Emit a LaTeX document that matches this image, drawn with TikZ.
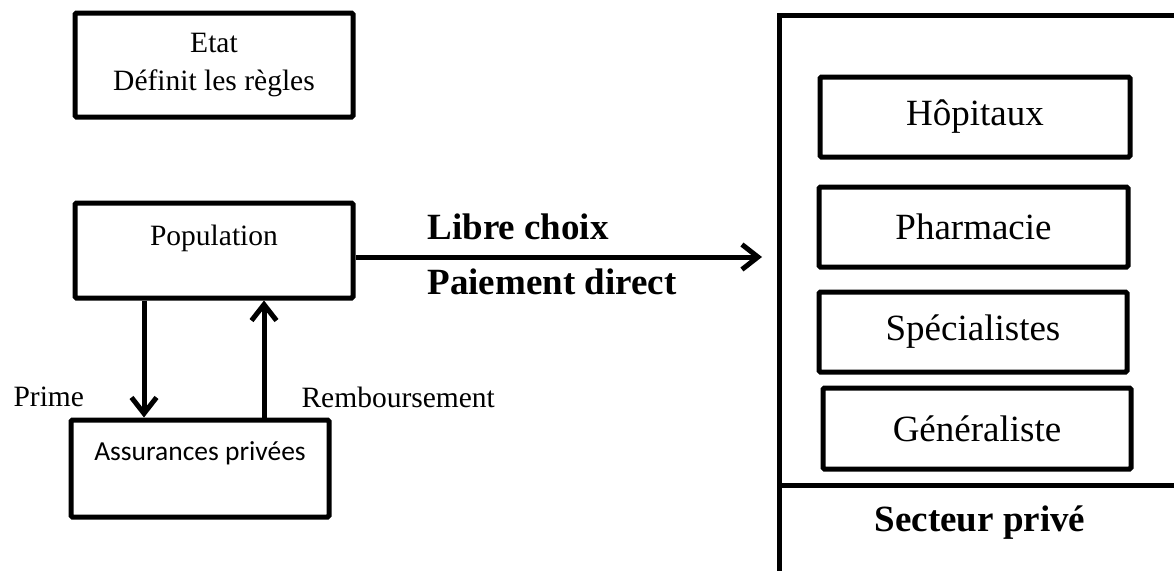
\documentclass[tikz,border=0pt]{standalone}
\usepackage{fontspec}
\setmainfont{Liberation Serif}
\newfontfamily\calibfont{Carlito}
\usetikzlibrary{arrows.meta,calc}
\begin{document}
\begin{tikzpicture}[x=1pt,y=-1pt,
  box/.style={draw,line width=5pt,rounded corners=1.5pt,inner sep=0pt},
  small/.style={font=\fontsize{29.5}{38}\selectfont},
  big/.style={font=\fontsize{37}{44}\selectfont},
  flow/.style={line width=5pt,-{Straight Barb[length=16pt,width=25pt,line width=5pt]}}]
\useasboundingbox (0,0) rectangle (1174,570);

% left column: state, population, insurers
\node[box,small,align=center,minimum width=278pt,minimum height=104pt] (etat) at (214,65) {Etat\\Définit les règles};
\node[box,minimum width=278pt,minimum height=95pt] (pop) at (214,250.5) {};
\node[small] (poptxt) at (214,238) {Population};
\node[box,minimum width=258pt,minimum height=97pt] (ins) at (200,468.5) {};
\node[font=\calibfont\fontsize{27.5}{32}\selectfont] (instxt) at (200,453) {Assurances privées};

% premium down, reimbursement up
\coordinate (primex) at (144,0);
\coordinate (rembx) at (264,0);
\draw[flow] (pop.south -| primex) -- (ins.north -| primex);
\draw[flow] (ins.north -| rembx) -- (pop.south -| rembx);
\node[small,anchor=west] (prime) at (10,397) {Prime};
\node[small,anchor=west] (remb) at (298,397) {Remboursement};

% private sector frame
\coordinate (ftl) at (779,15);
\coordinate (ftr) at (1190,15);
\coordinate (fbl) at (779,590);
\coordinate (dl) at (779,485);
\coordinate (dr) at (1190,485);
\draw[line width=5pt] (ftr) -- (ftl) -- (fbl);
\draw[line width=5pt] (dl) -- (dr);
\node[font=\fontsize{37}{44}\selectfont\bfseries] (secteur) at (980,523) {Secteur privé};

% providers
\node[box,big,minimum width=310pt,minimum height=80pt] (hop) at (975,117) {Hôpitaux};
\node[box,big,minimum width=309pt,minimum height=80pt] (pharma) at (973.5,227) {Pharmacie};
\node[box,big,minimum width=308pt,minimum height=80pt] (spec) at (973,332) {Spécialistes};
\node[box,big,minimum width=308pt,minimum height=81pt] (gen) at (977,428.5) {Généraliste};

% free choice / direct payment
\coordinate (tipend) at (762,257);
\draw[flow] (pop.east |- tipend) -- (tipend);
\node[font=\fontsize{37}{44}\selectfont\bfseries,anchor=west] (libre) at (424,227) {Libre choix};
\node[font=\fontsize{37}{44}\selectfont\bfseries,anchor=west] (paie) at (424,282) {Paiement direct};
\end{tikzpicture}
\end{document}
